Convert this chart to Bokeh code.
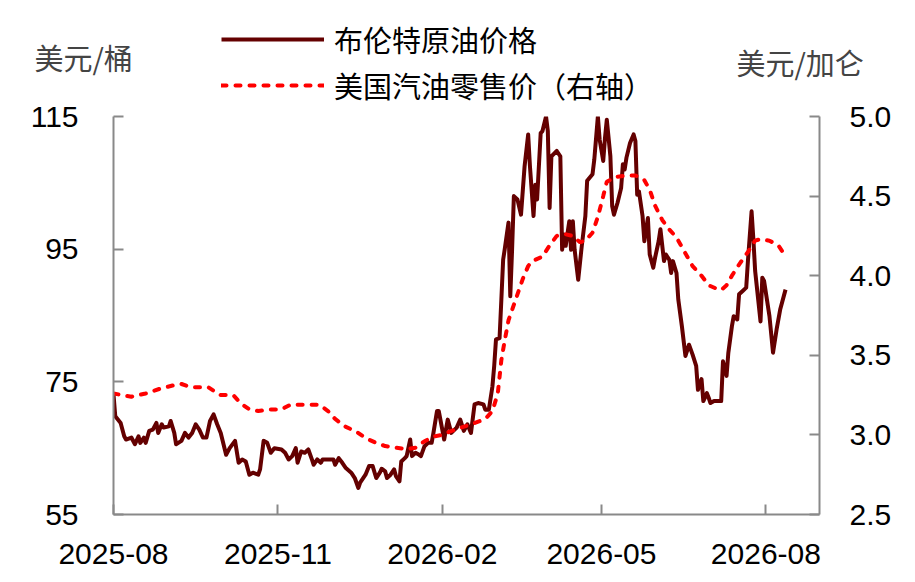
import pandas as pd
from bokeh.plotting import figure
from bokeh.layouts import column
from bokeh.models import (ColumnDataSource, LinearAxis, Range1d, FixedTicker,
                          DatetimeTickFormatter, PrintfTickFormatter, Legend,
                          LegendItem, Label)
from bokeh.embed import file_html
from bokeh.resources import INLINE

# Brent crude, USD/bbl
brent_dates = [
    "2025-08-01", "2025-08-02", "2025-08-05", "2025-08-07", "2025-08-08", "2025-08-11", "2025-08-13", "2025-08-15",
    "2025-08-16", "2025-08-18", "2025-08-19", "2025-08-21", "2025-08-23", "2025-08-25", "2025-08-26", "2025-08-28", "2025-08-29",
    "2025-09-01", "2025-09-02", "2025-09-04", "2025-09-05", "2025-09-08", "2025-09-10", "2025-09-12", "2025-09-14",
    "2025-09-16", "2025-09-18", "2025-09-20", "2025-09-22", "2025-09-24", "2025-09-26", "2025-09-28", "2025-09-30",
    "2025-10-03", "2025-10-05", "2025-10-08", "2025-10-10", "2025-10-12", "2025-10-14", "2025-10-16", "2025-10-18",
    "2025-10-21", "2025-10-22", "2025-10-24", "2025-10-26", "2025-10-28", "2025-10-30",
    "2025-11-03", "2025-11-05", "2025-11-07", "2025-11-09", "2025-11-11", "2025-11-12", "2025-11-14", "2025-11-16",
    "2025-11-18", "2025-11-20", "2025-11-21", "2025-11-23", "2025-11-25", "2025-11-26", "2025-11-30",
    "2025-12-02", "2025-12-03", "2025-12-05", "2025-12-07", "2025-12-09", "2025-12-12", "2025-12-14", "2025-12-16",
    "2025-12-17", "2025-12-20", "2025-12-22", "2025-12-24", "2025-12-26", "2025-12-28", "2025-12-29", "2025-12-31",
    "2026-01-01", "2026-01-03", "2026-01-05", "2026-01-06", "2026-01-08", "2026-01-09", "2026-01-11", "2026-01-12",
    "2026-01-14", "2026-01-15", "2026-01-17", "2026-01-19", "2026-01-20", "2026-01-22", "2026-01-24", "2026-01-26",
    "2026-01-27", "2026-01-29", "2026-01-30",
    "2026-02-02", "2026-02-04", "2026-02-06", "2026-02-09", "2026-02-11", "2026-02-13", "2026-02-15", "2026-02-17",
    "2026-02-19", "2026-02-21", "2026-02-24", "2026-02-25", "2026-02-27",
    "2026-03-01", "2026-03-02", "2026-03-03", "2026-03-05", "2026-03-06", "2026-03-07", "2026-03-08", "2026-03-10",
    "2026-03-11", "2026-03-12", "2026-03-13", "2026-03-15", "2026-03-17", "2026-03-19", "2026-03-21", "2026-03-22",
    "2026-03-24", "2026-03-25", "2026-03-26", "2026-03-28", "2026-03-29", "2026-03-31",
    "2026-04-01", "2026-04-02", "2026-04-03", "2026-04-06", "2026-04-08", "2026-04-09", "2026-04-10", "2026-04-11",
    "2026-04-13", "2026-04-14", "2026-04-15", "2026-04-16", "2026-04-18", "2026-04-20", "2026-04-22", "2026-04-23",
    "2026-04-26", "2026-04-27", "2026-04-29", "2026-04-30",
    "2026-05-02", "2026-05-03", "2026-05-04", "2026-05-06", "2026-05-07", "2026-05-08", "2026-05-10", "2026-05-12",
    "2026-05-13", "2026-05-14", "2026-05-15", "2026-05-17", "2026-05-19", "2026-05-20", "2026-05-21", "2026-05-22",
    "2026-05-24", "2026-05-25", "2026-05-27", "2026-05-28", "2026-05-30", "2026-05-31",
    "2026-06-02", "2026-06-03", "2026-06-05", "2026-06-06", "2026-06-08", "2026-06-09", "2026-06-10", "2026-06-12",
    "2026-06-13", "2026-06-15", "2026-06-17", "2026-06-19", "2026-06-21", "2026-06-23", "2026-06-24", "2026-06-26",
    "2026-06-27", "2026-06-29", "2026-06-30",
    "2026-07-01", "2026-07-03", "2026-07-07", "2026-07-08", "2026-07-10", "2026-07-11", "2026-07-13", "2026-07-14",
    "2026-07-16", "2026-07-17", "2026-07-19", "2026-07-21", "2026-07-22", "2026-07-24", "2026-07-25", "2026-07-26",
    "2026-07-29", "2026-07-30", "2026-07-31",
    "2026-08-03", "2026-08-05", "2026-08-07", "2026-08-09", "2026-08-12",
]
brent_price = [
    73.1, 69.8, 68.8, 66.8, 66.3, 66.6, 65.6, 66.8, 65.8, 66.6, 65.8, 67.6, 67.8, 68.8, 67.3, 68.6, 68.1,
    68.3, 69.1, 67.3, 65.6, 66.1, 67.3, 66.6, 67.3, 68.6, 67.8, 66.6, 66.6, 69.1, 70.1, 68.6, 67.3,
    64.0, 65.0, 66.1, 62.8, 63.3, 63.0, 61.0, 61.3, 61.0, 61.8, 66.1, 65.8, 64.3, 65.0,
    64.8, 64.3, 63.3, 63.8, 65.0, 62.8, 64.5, 64.3, 64.8, 63.3, 62.5, 63.3, 62.8, 63.3, 63.3,
    63.3, 62.5, 63.5, 62.8, 62.0, 61.3, 60.5, 59.0, 59.8, 61.0, 62.3, 62.3, 60.5, 61.3, 61.9, 61.5,
    60.5, 61.0, 61.8, 60.8, 60.0, 63.0, 63.5, 63.8, 66.3, 63.8, 64.3, 64.0, 63.8, 65.3, 65.8, 65.8, 67.3, 70.6, 70.6,
    66.3, 69.3, 67.3, 68.1, 69.3, 67.6, 68.6, 67.3, 71.6, 71.8, 71.6, 70.8, 70.8,
    74.3, 77.4, 81.4, 81.6, 87.4, 93.4, 95.2, 99.0, 87.9, 94.9, 103.0, 102.5, 100.2, 107.5, 112.3, 107.5,
    100.0, 104.7, 102.5, 112.5, 112.8, 115.0,
    112.8, 101.2, 109.0, 109.8, 109.0, 94.9, 97.2, 95.5, 99.2, 94.9, 99.2, 94.9, 90.4, 95.5, 100.0, 105.3,
    106.3, 108.5, 115.0, 111.5,
    108.3, 111.8, 114.5, 109.0, 101.5, 100.2, 102.0, 104.2, 107.8, 107.0, 108.8, 111.0, 112.3, 111.3, 103.2, 103.7,
    100.0, 96.2, 99.7, 94.2, 92.2, 93.7,
    96.2, 98.0, 93.2, 94.2, 93.4, 91.4, 93.2, 91.4, 87.4, 83.4, 78.9, 80.6, 79.1, 77.4, 73.8, 75.4, 72.1, 73.3, 72.6,
    71.8, 72.1, 72.1, 78.1, 75.9, 79.4, 83.4, 84.9, 84.4, 88.2, 88.7, 89.2, 93.4, 100.7, 96.5, 91.7, 84.1, 90.7, 90.2,
    84.9, 79.4, 82.9, 85.9, 88.9,
]

# US retail gasoline, USD/gal (right axis)
gas_dates = [
    "2025-08-01", "2025-08-11", "2025-08-19", "2025-08-27",
    "2025-09-03", "2025-09-08", "2025-09-13", "2025-09-18", "2025-09-23", "2025-09-27", "2025-09-30",
    "2025-10-07", "2025-10-11", "2025-10-16", "2025-10-21", "2025-10-27",
    "2025-11-03", "2025-11-08", "2025-11-13", "2025-11-18", "2025-11-24", "2025-11-29",
    "2025-12-03", "2025-12-09", "2025-12-15", "2025-12-20", "2025-12-26", "2025-12-31",
    "2026-01-06", "2026-01-12", "2026-01-17", "2026-01-22", "2026-01-27",
    "2026-02-01", "2026-02-05", "2026-02-10", "2026-02-18", "2026-02-25",
    "2026-03-01", "2026-03-04", "2026-03-06", "2026-03-08", "2026-03-10", "2026-03-14", "2026-03-18", "2026-03-21",
    "2026-03-23", "2026-03-29",
    "2026-04-02", "2026-04-06", "2026-04-11", "2026-04-15", "2026-04-19", "2026-04-22", "2026-04-26", "2026-04-29",
    "2026-05-02", "2026-05-04", "2026-05-09", "2026-05-15", "2026-05-20", "2026-05-25", "2026-05-28", "2026-05-31",
    "2026-06-04", "2026-06-08", "2026-06-12", "2026-06-16", "2026-06-21", "2026-06-26", "2026-06-30",
    "2026-07-04", "2026-07-07", "2026-07-10", "2026-07-13", "2026-07-17", "2026-07-22", "2026-07-26", "2026-07-29",
    "2026-08-03", "2026-08-08", "2026-08-11",
]
gas_price = [
    3.26, 3.24, 3.26, 3.29,
    3.31, 3.32, 3.30, 3.30, 3.30, 3.27, 3.25,
    3.25, 3.20, 3.16, 3.15, 3.16,
    3.16, 3.19, 3.19, 3.19, 3.19, 3.15,
    3.10, 3.05, 3.02, 2.98, 2.95, 2.93,
    2.92, 2.91, 2.92, 2.96, 2.99,
    3.00, 3.02, 3.04, 3.07, 3.10,
    3.15, 3.26, 3.47, 3.60, 3.72, 3.85, 3.98, 4.06, 4.09, 4.12,
    4.19, 4.25, 4.26, 4.25, 4.21, 4.22, 4.27, 4.37,
    4.50, 4.59, 4.62, 4.63, 4.63, 4.60, 4.54, 4.44,
    4.35, 4.29, 4.24, 4.16, 4.06, 4.00, 3.94,
    3.92, 3.91, 3.94, 4.00, 4.07, 4.15, 4.22, 4.23,
    4.22, 4.19, 4.14,
]

x_ticks = ["2025-08-01", "2025-11-01", "2026-02-01", "2026-05-01", "2026-08-01"]
left_ticks = [55, 75, 95, 115]
right_ticks = [2.5, 3.0, 3.5, 4.0, 4.5, 5.0]
series_names = ["布伦特原油价格", "美国汽油零售价（右轴）"]
unit_left = "美元/桶"
unit_right = "美元/加仑"

brent_src = ColumnDataSource(data=dict(date=pd.to_datetime(brent_dates), price=brent_price))
gas_src = ColumnDataSource(data=dict(date=pd.to_datetime(gas_dates), price=gas_price))

def ms(d):
    return pd.Timestamp(d).value / 1e6

AXIS_GREY = "#898989"
BRENT_COLOR = "#640000"
GAS_COLOR = "#ff0000"
TICK_FONT = "Liberation Sans"
CJK_FONT = "Noto Sans CJK SC"
W = 899
TOP_H = 108
OVERLAP = 17

brent_style = dict(line_color=BRENT_COLOR, line_width=4, line_join="round")
gas_style = dict(line_color=GAS_COLOR, line_width=4, line_dash="5 9", line_cap="round")

# --- header strip: unit labels + legend (kept out of the clipped plot frame) ---
top = figure(width=W, height=TOP_H, x_range=Range1d(0, W), y_range=Range1d(0, TOP_H),
             x_axis_location=None, y_axis_location=None, min_border=0,
             toolbar_location=None, tools="", output_backend="svg")
top.frame_align = False
top.outline_line_color = None
top.grid.visible = False

# same sources; dates sit far outside this strip's range, only the legend swatches show
leg_brent = top.line("date", "price", source=brent_src, **brent_style)
leg_gas = top.line("date", "price", source=gas_src, **gas_style)
legend = Legend(items=[
    LegendItem(label=series_names[0], renderers=[leg_brent]),
    LegendItem(label=series_names[1], renderers=[leg_gas]),
], location=(221, 2))
legend.label_text_font = CJK_FONT
legend.label_text_font_size = "29px"
legend.label_text_color = "black"
legend.glyph_width = 103
legend.glyph_height = 30
legend.label_height = 30
legend.spacing = 4
legend.padding = 0
legend.margin = 0
legend.label_standoff = 10
legend.background_fill_alpha = 0
legend.border_line_color = None
top.add_layout(legend)

top.add_layout(Label(x=34, y=TOP_H + 1 - 57, text=unit_left, text_font=CJK_FONT,
                     text_font_size="29px", text_baseline="middle"))
top.add_layout(Label(x=736, y=TOP_H + 1 - 62, text=unit_right, text_font=CJK_FONT,
                     text_font_size="29px", text_baseline="middle"))

# --- main chart (pulled up under the header, transparent, so its top tick labels have room) ---
p = figure(
    frame_width=706, frame_height=398,
    x_axis_type="datetime",
    x_range=Range1d(ms("2025-08-01"), ms("2026-08-31")),
    y_range=Range1d(55, 115),
    toolbar_location=None, tools="",
    output_backend="svg",
    min_border_left=113, min_border_right=80,
    min_border_top=116 - TOP_H + OVERLAP, min_border_bottom=66,
)
p.frame_align = False
p.margin = (-OVERLAP, 0, 0, 0)
p.border_fill_alpha = 0
p.background_fill_alpha = 0
p.outline_line_color = None
p.xgrid.visible = False
p.ygrid.visible = False
p.extra_y_ranges = {"gas": Range1d(2.5, 5.0)}
right_axis = LinearAxis(y_range_name="gas")
p.add_layout(right_axis, "right")

def style_axis(ax, standoff):
    ax.axis_line_color = AXIS_GREY
    ax.axis_line_width = 2
    ax.major_tick_line_color = AXIS_GREY
    ax.major_tick_line_width = 2
    ax.major_tick_in = 10
    ax.major_tick_out = 0
    ax.minor_tick_line_color = None
    ax.major_label_text_font = TICK_FONT
    ax.major_label_text_font_size = "30px"
    ax.major_label_text_color = "black"
    ax.major_label_standoff = standoff

style_axis(p.xaxis[0], 29)
style_axis(p.yaxis[0], 35)
style_axis(right_axis, 30)

p.xaxis[0].ticker = FixedTicker(ticks=[ms(d) for d in x_ticks])
p.xaxis[0].formatter = DatetimeTickFormatter(
    years="%Y-%m", months="%Y-%m", days="%Y-%m", hours="%Y-%m")
p.yaxis[0].ticker = FixedTicker(ticks=left_ticks)
right_axis.ticker = FixedTicker(ticks=right_ticks)
right_axis.formatter = PrintfTickFormatter(format="%.1f")

p.line("date", "price", source=brent_src, **brent_style)
p.line("date", "price", source=gas_src, y_range_name="gas", **gas_style)

layout = column(top, p, spacing=0)
open("out.html", "w").write(file_html(layout, INLINE))
